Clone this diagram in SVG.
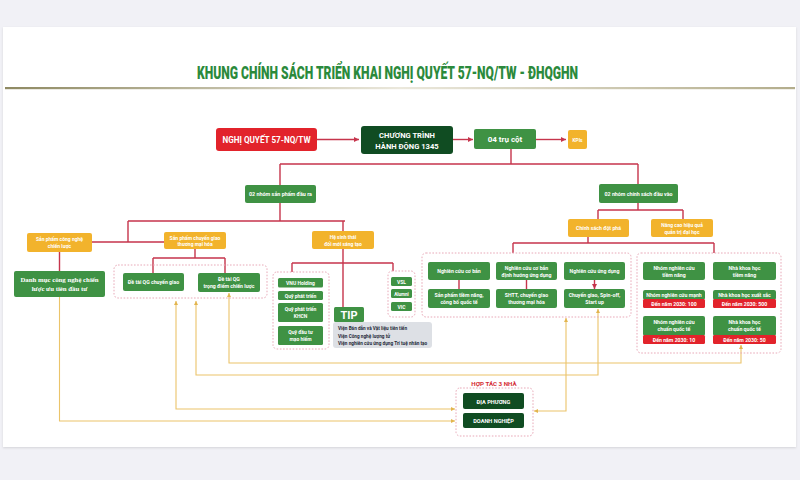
<svg xmlns="http://www.w3.org/2000/svg" width="800" height="480" viewBox="0 0 800 480">
<style>
.t{font-family:Roboto,"Liberation Sans",sans-serif;font-weight:700;fill:#fff;text-anchor:middle}
.s{font-family:"Liberation Serif","DejaVu Serif",serif;font-weight:700;fill:#fff;text-anchor:middle}
.g{fill:#3f9244}
.dg{fill:#104c22}
.y{fill:#f2b32c}
.r{fill:#e2232b}
.grp{fill:none;stroke:#e8a9b8;stroke-width:1;stroke-dasharray:1.6 1.6}
.cr{fill:none;stroke:#c6354c;stroke-width:1.4}
.cy{fill:none;stroke:#ebc46a;stroke-width:1.1}
.tiny{font-size:5.2px}
</style>
<defs>
<marker id="ar" viewBox="0 0 6 6" refX="6" refY="3" markerWidth="5" markerHeight="5" markerUnits="userSpaceOnUse" orient="auto"><path d="M0,0L6,3L0,6z" fill="#c6354c"/></marker>
<marker id="ay" viewBox="0 0 6 6" refX="6" refY="3" markerWidth="4" markerHeight="4" markerUnits="userSpaceOnUse" orient="auto-start-reverse"><path d="M0,0L6,3L0,6z" fill="#e2b54e"/></marker>
<linearGradient id="ln" x1="0" x2="1" y1="0" y2="0"><stop offset="0" stop-color="#8e8962"/><stop offset="0.5" stop-color="#ebe8dc"/><stop offset="1" stop-color="#b3ad8c"/></linearGradient>
<filter id="sh" x="-5%" y="-5%" width="110%" height="110%"><feDropShadow dx="0" dy="1" stdDeviation="1.2" flood-color="#000" flood-opacity="0.12"/></filter>
</defs>
<rect x="0" y="0" width="800" height="480" fill="#f1f1f6"/>
<rect x="3" y="27" width="793" height="420" fill="#fff" filter="url(#sh)"/>
<text x="197" y="78.5" font-family="Roboto,'Liberation Sans',sans-serif" font-weight="900" font-size="18.5" fill="#2b8a3c" textLength="381" lengthAdjust="spacingAndGlyphs">KHUNG CHÍNH SÁCH TRIỂN KHAI NGHỊ QUYẾT 57-NQ/TW - ĐHQGHN</text>
<rect x="5" y="87" width="790" height="2.2" fill="url(#ln)"/>

<g id="connectors">
<path class="cr" d="M317,139.5H359" marker-end="url(#ar)"/>
<path class="cr" d="M453,139.5H473" marker-end="url(#ar)"/>
<path class="cr" d="M536,139.5H566" marker-end="url(#ar)"/>
<path class="cr" d="M511,149V164M280,164H638M280,164V185M638,164V184"/>
<path class="cr" d="M280,203V221M128,221H345M128,221V242M92,242H164M343,221V231M59.5,252V271"/>
<path class="cr" d="M195,249V258M153,258H225M153,258V273M225,258V273"/>
<path class="cr" d="M343,249V307M292,263H393M292,263V272M393,263V271"/>
<path class="cr" d="M638,203V210M598,210H683M598,210V219M683,210V219"/>
<path class="cr" d="M588,237V243M513,243H714M513,243V253M714,243V253"/>
<path class="cr" d="M459,280V289M526.5,280V289M594.5,280V289" marker-end="url(#ar)"/>
<path class="cy" d="M59.5,297V421H455" marker-end="url(#ay)"/>
<path class="cy" d="M176,301V409H455" marker-start="url(#ay)" marker-end="url(#ay)"/>
<path class="cy" d="M196,301V375H598V309" marker-start="url(#ay)" marker-end="url(#ay)"/>
<path class="cy" d="M229,293V363H741V345" marker-start="url(#ay)" marker-end="url(#ay)"/>
<path class="cy" d="M534,411H566V318" marker-start="url(#ay)" marker-end="url(#ay)"/>
</g>

<g id="nq57"><rect class="r" x="216" y="128" width="101" height="23" rx="3"/><text class="t" x="266.5" y="143" font-size="9.5" textLength="88" lengthAdjust="spacingAndGlyphs">NGHỊ QUYẾT 57-NQ/TW</text></g>
<g id="ct1345"><rect class="dg" x="361" y="126" width="92" height="28" rx="3"/><text class="t" x="407" y="138" font-size="7.6">CHƯƠNG TRÌNH</text><text class="t" x="407" y="149" font-size="7.6">HÀNH ĐỘNG 1345</text></g>
<g id="trucot"><rect class="g" x="474" y="129" width="62" height="20" rx="2"/><text class="t" x="505" y="142" font-size="8">04 trụ cột</text></g>
<g id="kpis"><rect class="y" x="568" y="130" width="19" height="19" rx="2"/><text class="t" x="577.5" y="141.5" font-size="4.8">KPIs</text></g>

<g id="spdaura"><rect class="g" x="245" y="185" width="71" height="18" rx="2"/><text class="t tiny" x="280.5" y="196" textLength="63" lengthAdjust="spacingAndGlyphs">02 nhóm sản phẩm đầu ra</text></g>
<g id="csdauvao"><rect class="g" x="599" y="184" width="79" height="19" rx="2"/><text class="t tiny" x="638.5" y="195.5" textLength="68" lengthAdjust="spacingAndGlyphs">02 nhóm chính sách đầu vào</text></g>

<g id="spcn"><rect class="y" x="27" y="233" width="65" height="19" rx="2"/><text class="t" x="59.5" y="241" font-size="5">Sản phẩm công nghệ</text><text class="t" x="59.5" y="248" font-size="5">chiến lược</text></g>
<g id="spcg"><rect class="y" x="164" y="232" width="62" height="17" rx="2"/><text class="t" x="195" y="239.5" font-size="5">Sản phẩm chuyển giao</text><text class="t" x="195" y="246" font-size="5">thương mại hóa</text></g>
<g id="hst"><rect class="y" x="312" y="231" width="62" height="18" rx="2"/><text class="t" x="343" y="238.5" font-size="5">Hệ sinh thái</text><text class="t" x="343" y="245.5" font-size="5">đổi mới sáng tạo</text></g>

<g id="danhmuc"><rect class="g" x="14" y="271" width="91" height="26" rx="2"/><text class="s" x="59.5" y="282" font-size="6.8">Danh mục công nghệ chiến</text><text class="s" x="59.5" y="290.5" font-size="6.8">lược ưu tiên đầu tư</text></g>

<g id="detai"><rect class="grp" x="114" y="265" width="153" height="33" rx="4"/>
<rect class="g" x="123" y="273" width="61" height="18" rx="2"/><text class="t tiny" x="153.5" y="284">Đề tài QG chuyển giao</text>
<rect class="g" x="198" y="273" width="62" height="19" rx="2"/><text class="t tiny" x="229" y="281">Đề tài QG</text><text class="t tiny" x="229" y="288">trọng điểm chiến lược</text></g>

<g id="quy"><rect class="grp" x="273" y="272" width="56" height="77" rx="4"/>
<rect class="g" x="278" y="278" width="45" height="9.5" rx="1.5"/><text class="t" x="300.5" y="285" font-size="5">VNU Holding</text>
<rect class="g" x="278" y="291" width="45" height="9" rx="1.5"/><text class="t" x="300.5" y="297.5" font-size="5">Quỹ phát triển</text>
<rect class="g" x="278" y="303" width="45" height="19" rx="1.5"/><text class="t" x="300.5" y="311" font-size="5">Quỹ phát triển</text><text class="t" x="300.5" y="318" font-size="5">KHCN</text>
<rect class="g" x="278" y="326" width="45" height="19" rx="1.5"/><text class="t" x="300.5" y="334" font-size="5">Quỹ đầu tư</text><text class="t" x="300.5" y="341" font-size="5">mạo hiểm</text></g>

<g id="tip"><rect class="g" x="334" y="307" width="30" height="15" rx="1.5"/><text class="t" x="349" y="318.5" font-size="11">TIP</text>
<rect x="333" y="322" width="99" height="26" rx="3" fill="#dde0e5"/>
<g font-family="Roboto,'Liberation Sans',sans-serif" font-weight="700" font-size="4.7" fill="#1e2a38"><text x="338" y="330">Viện Bán dẫn và Vật liệu tiên tiến</text><text x="338" y="337.5">Viện Công nghệ lượng tử</text><text x="338" y="345">Viện nghiên cứu ứng dụng Trí tuệ nhân tạo</text></g></g>

<g id="vsl"><rect class="grp" x="388" y="271" width="27" height="46" rx="4"/>
<rect class="g" x="391" y="277" width="21" height="9" rx="1.5"/><text class="t" x="401.5" y="283.5" font-size="5">VSL</text>
<rect class="g" x="391" y="289" width="21" height="9" rx="1.5"/><text class="t" x="401.5" y="295.5" font-size="4.6">Alumni</text>
<rect class="g" x="391" y="302" width="21" height="9" rx="1.5"/><text class="t" x="401.5" y="308.5" font-size="5">VIC</text></g>

<g id="csdp"><rect class="y" x="568" y="219" width="61" height="18" rx="2"/><text class="t tiny" x="598.5" y="230">Chính sách đột phá</text></g>
<g id="nangcao"><rect class="y" x="651" y="219" width="62" height="18" rx="2"/><text class="t" x="682" y="226.5" font-size="5">Nâng cao hiệu quả</text><text class="t" x="682" y="233.5" font-size="5">quản trị đại học</text></g>

<g id="nghiencuu"><rect class="grp" x="422" y="253" width="209" height="64" rx="4"/>
<rect class="g" x="428" y="262" width="62" height="18" rx="2"/><text class="t tiny" x="459" y="273">Nghiên cứu cơ bản</text>
<rect class="g" x="496" y="262" width="61" height="18" rx="2"/><text class="t tiny" x="526.5" y="269.5">Nghiên cứu cơ bản</text><text class="t tiny" x="526.5" y="276.5">định hướng ứng dụng</text>
<rect class="g" x="564" y="262" width="61" height="18" rx="2"/><text class="t tiny" x="594.5" y="273">Nghiên cứu ứng dụng</text>
<rect class="g" x="428" y="289" width="62" height="19" rx="2"/><text class="t tiny" x="459" y="297">Sản phẩm tiềm năng,</text><text class="t tiny" x="459" y="304">công bố quốc tế</text>
<rect class="g" x="496" y="289" width="61" height="19" rx="2"/><text class="t tiny" x="526.5" y="297">SHTT, chuyển giao</text><text class="t tiny" x="526.5" y="304">thương mại hóa</text>
<rect class="g" x="564" y="289" width="61" height="19" rx="2"/><text class="t tiny" x="594.5" y="297">Chuyển giao, Spin-off,</text><text class="t tiny" x="594.5" y="304">Start up</text></g>

<g id="nhankhoa"><rect class="grp" x="637" y="253" width="144" height="100" rx="4"/>
<rect class="g" x="643" y="262" width="62" height="18" rx="2"/><text class="t tiny" x="674" y="269.5">Nhóm nghiên cứu</text><text class="t tiny" x="674" y="276.5">tiềm năng</text>
<rect class="g" x="713" y="262" width="63" height="18" rx="2"/><text class="t tiny" x="744.5" y="269.5">Nhà khoa học</text><text class="t tiny" x="744.5" y="276.5">tiềm năng</text>
<rect class="g" x="643" y="290" width="62" height="10" rx="2"/><rect class="r" x="643" y="299" width="62" height="9" rx="1.5"/><text class="t tiny" x="674" y="297">Nhóm nghiên cứu mạnh</text><text class="t tiny" x="674" y="305.5">Đến năm 2030: 100</text>
<rect class="g" x="713" y="290" width="63" height="10" rx="2"/><rect class="r" x="713" y="299" width="63" height="9" rx="1.5"/><text class="t tiny" x="744.5" y="297">Nhà khoa học xuất sắc</text><text class="t tiny" x="744.5" y="305.5">Đến năm 2030: 500</text>
<rect class="g" x="643" y="316" width="62" height="20" rx="2"/><rect class="r" x="643" y="335" width="62" height="9" rx="1.5"/><text class="t tiny" x="674" y="324">Nhóm nghiên cứu</text><text class="t tiny" x="674" y="331">chuẩn quốc tế</text><text class="t tiny" x="674" y="341.5">Đến năm 2030: 10</text>
<rect class="g" x="713" y="316" width="63" height="20" rx="2"/><rect class="r" x="713" y="335" width="63" height="9" rx="1.5"/><text class="t tiny" x="744.5" y="324">Nhà khoa học</text><text class="t tiny" x="744.5" y="331">chuẩn quốc tế</text><text class="t tiny" x="744.5" y="341.5">Đến năm 2030: 50</text></g>

<g id="hoptac"><text x="494" y="386" font-family="Roboto,'Liberation Sans',sans-serif" font-weight="700" font-size="6.2" fill="#d42a33" text-anchor="middle">HỢP TÁC 3 NHÀ</text>
<rect class="grp" x="456" y="388" width="77" height="48" rx="4"/>
<rect class="dg" x="463" y="393" width="61" height="16" rx="2"/><text class="t" x="493.5" y="403.5" font-size="5.6">ĐỊA PHƯƠNG</text>
<rect class="dg" x="463" y="413" width="61" height="15" rx="2"/><text class="t" x="493.5" y="423" font-size="5.6">DOANH NGHIỆP</text></g>
</svg>
